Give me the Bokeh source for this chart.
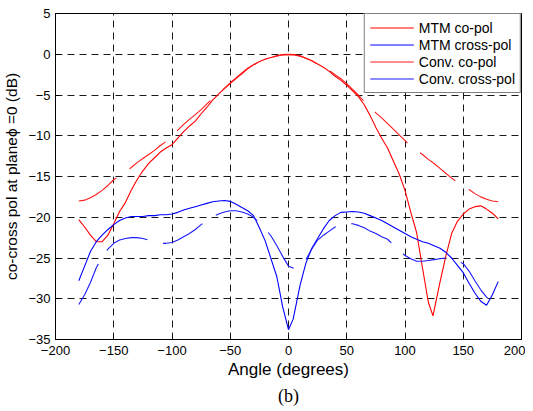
from bokeh.plotting import figure
from bokeh.models import FixedTicker, Legend, LegendItem, Title, Range1d
from bokeh.embed import file_html
from bokeh.resources import INLINE

# ---------------- data ----------------
x_ticks = [-200, -150, -100, -50, 0, 50, 100, 150, 200]
y_ticks = [-35, -30, -25, -20, -15, -10, -5, 0, 5]

mtm_co_angle = [-180, -175, -170, -165, -160, -155, -150, -145, -140, -135, -130, -125,
                -120, -115, -110, -105, -100, -95, -90, -85, -80, -75, -70, -65, -60,
                -55, -50, -45, -40, -35, -30, -25, -20, -15, -10, -5, 0, 5, 10, 15, 20,
                25, 30, 35, 40, 45, 50, 55, 60, 65, 70, 75, 80, 85, 90, 95, 100, 105,
                110, 115, 120, 124, 130, 135, 140, 145, 150, 155, 160, 165, 170, 175, 180]
mtm_co_db = [-20.3, -21.2, -22.2, -23.0, -23.0, -22.2, -20.8, -19.3, -18.2, -16.7, -15.4, -14.3,
             -13.4, -12.7, -12.0, -11.5, -11.1, -10.3, -9.5, -8.8, -8.2, -7.3, -6.5, -5.6, -4.9,
             -4.2, -3.5, -2.9, -2.3, -1.7, -1.3, -0.9, -0.6, -0.4, -0.2, -0.05, 0.0, -0.05, -0.2,
             -0.5, -0.8, -1.2, -1.6, -2.1, -2.7, -3.2, -3.8, -4.5, -5.2, -6.2, -7.5, -9.0, -10.3,
             -11.5, -13.1, -14.7, -16.7, -19.4, -21.9, -26.2, -30.4, -32.1, -28.0, -24.8, -22.0,
             -20.5, -19.6, -19.0, -18.7, -18.6, -19.0, -19.5, -20.2]

conv_co_angle = list(range(-180, 181, 5))
conv_co_db = [-18.0, -17.9, -17.6, -17.2, -16.7, -16.1, -15.4, -14.9, -14.4, -13.9, -13.3, -12.8,
              -12.3, -11.8, -11.2, -10.7, -10.0, -9.3, -8.6, -8.0, -7.4, -6.8, -6.1, -5.4, -4.8,
              -4.2, -3.6, -3.0, -2.4, -1.8, -1.3, -0.9, -0.6, -0.4, -0.2, -0.1, -0.05, -0.1, -0.25,
              -0.5, -0.8, -1.2, -1.6, -2.0, -2.5, -3.0, -3.6, -4.3, -5.0, -5.8, -6.5, -7.2, -7.8,
              -8.5, -9.2, -9.9, -10.6, -11.3, -11.8, -12.3, -12.9, -13.4, -14.0, -14.6, -15.2,
              -15.7, -16.2, -16.6, -17.1, -17.5, -17.8, -18.0, -18.1]

mtm_cross_angle = [-180, -175, -170, -165, -160, -155, -150, -145, -140, -135, -130, -125,
                   -120, -115, -110, -105, -100, -95, -90, -85, -80, -75, -70, -65, -60, -55,
                   -50, -45, -40, -35, -30, -25, -20, -15, -10, -5, 0, 4, 10, 15, 20, 25, 30,
                   35, 40, 45, 50, 55, 60, 65, 70, 75, 80, 85, 90, 95, 100, 105, 110, 115,
                   120, 125, 130, 135, 140, 145, 150, 155, 160, 165, 170, 175, 180]
mtm_cross_db = [-27.8, -26.0, -24.2, -23.0, -22.2, -21.5, -20.9, -20.4, -20.1, -19.9, -19.9, -19.9,
                -19.8, -19.8, -19.7, -19.7, -19.6, -19.4, -19.1, -18.9, -18.7, -18.5, -18.3, -18.1,
                -18.0, -17.95, -18.05, -18.4, -18.8, -19.2, -19.8, -21.3, -22.9, -25.1, -27.3,
                -31.0, -33.8, -32.5, -28.3, -25.6, -23.8, -22.6, -21.4, -20.4, -19.8, -19.4,
                -19.35, -19.3, -19.35, -19.5, -19.8, -20.1, -20.4, -20.8, -21.2, -21.6, -22.0,
                -22.4, -22.7, -23.0, -23.2, -23.5, -23.8, -24.3, -25.0, -25.9, -26.8, -28.1,
                -29.3, -30.3, -30.8, -29.5, -27.9]

conv_cross_angle = list(range(-180, 181, 5))
conv_cross_db = [-30.7, -29.5, -28.0, -26.2, -24.9, -23.9, -23.2, -22.8, -22.6, -22.5, -22.5, -22.6,
                 -22.8, -23.0, -23.2, -23.2, -23.1, -22.8, -22.4, -22.0, -21.5, -20.9, -20.4, -19.9,
                 -19.6, -19.35, -19.2, -19.2, -19.35, -19.6, -20.0, -20.7, -21.4, -22.3, -23.5,
                 -24.8, -26.0, -26.3, -26.0, -25.2, -23.9, -22.8, -22.2, -21.7, -21.2, -20.9,
                 -20.8, -20.8, -21.0, -21.3, -21.7, -22.0, -22.4, -22.7, -23.4, -24.0, -24.7,
                 -25.1, -25.4, -25.4, -25.3, -25.2, -25.1, -25.0, -25.0, -25.3, -25.7, -26.6,
                 -27.8, -28.9, -29.8, -30.4, -30.8]

labels = ["MTM co-pol", "MTM cross-pol", "Conv. co-pol", "Conv. cross-pol"]

# ---------------- figure ----------------
FONT = "Liberation Sans"
p = figure(frame_width=466, frame_height=326,
           x_range=Range1d(-200, 200), y_range=Range1d(-35, 5),
           output_backend="svg", toolbar_location=None,
           min_border_left=47, min_border_right=4, min_border_top=13, min_border_bottom=0,
           background_fill_color="white", border_fill_color="white")

p.outline_line_color = "black"
p.outline_line_width = 1
p.outline_line_alpha = 1

xt = FixedTicker(ticks=x_ticks)
yt = FixedTicker(ticks=y_ticks)
p.xaxis.ticker = xt
p.yaxis.ticker = yt
p.xgrid.ticker = xt
p.ygrid.ticker = yt

for ax in (p.xaxis[0], p.yaxis[0]):
    ax.axis_line_color = "black"
    ax.major_tick_in = 4
    ax.major_tick_out = 0
    ax.major_tick_line_color = "black"
    ax.minor_tick_line_color = None
    ax.major_label_text_font = FONT
    ax.major_label_text_font_size = "13px"
    ax.major_label_text_color = "black"
    ax.axis_label_text_font = FONT
    ax.axis_label_text_font_style = "normal"
    ax.axis_label_text_color = "black"

p.xaxis.axis_label = "Angle (degrees)"
p.xaxis.axis_label_text_font_size = "17px"
p.xaxis.major_label_standoff = 6
p.xaxis.axis_label_standoff = 2

p.yaxis.axis_label = "co-cross pol at plane\u03d5 =0 (dB)"
p.yaxis.axis_label_text_font_size = "15.5px"
p.yaxis.major_label_standoff = 5
p.yaxis.axis_label_standoff = 5

p.grid.grid_line_color = "black"
p.grid.grid_line_alpha = 0.9
p.grid.grid_line_dash = "7 5"
p.grid.grid_line_width = 1

r1 = p.line(mtm_co_angle, mtm_co_db, line_color="#ff0000", line_width=1.1)
r2 = p.line(mtm_cross_angle, mtm_cross_db, line_color="#0000ff", line_width=1.1)
r3 = p.line(conv_co_angle, conv_co_db, line_color="#ff1a1a", line_width=1.1, line_dash="45 16")
r4 = p.line(conv_cross_angle, conv_cross_db, line_color="#1a1aff", line_width=1.1, line_dash="45 16")

legend = Legend(items=[LegendItem(label=labels[0], renderers=[r1]),
                       LegendItem(label=labels[1], renderers=[r2]),
                       LegendItem(label=labels[2], renderers=[r3]),
                       LegendItem(label=labels[3], renderers=[r4])],
                location="top_right", margin=0, padding=5, spacing=0,
                label_height=17, glyph_height=17, glyph_width=44, label_standoff=5,
                border_line_color="black", border_line_width=1,
                background_fill_color="white", background_fill_alpha=1,
                label_text_font=FONT, label_text_font_size="14px", label_text_color="black")
p.add_layout(legend)

sub = Title(text="(b)", align="center", text_font="Liberation Serif",
            text_font_size="18px", text_font_style="normal", text_color="black", standoff=4)
p.add_layout(sub, "below")

open("out.html", "w").write(file_html(p, INLINE))
